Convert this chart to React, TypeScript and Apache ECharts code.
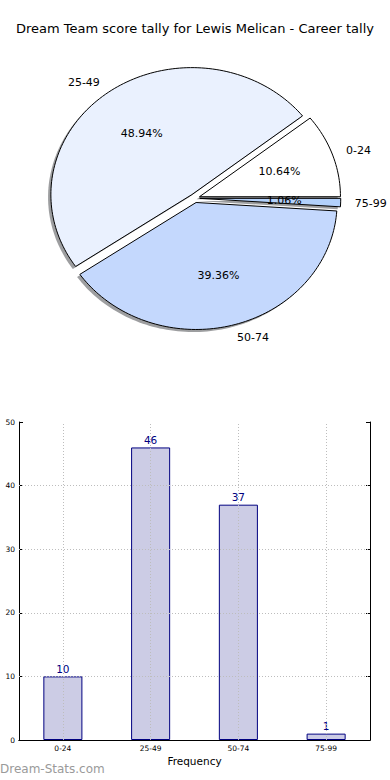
import React, { useEffect, useRef } from "react";
import * as echarts from "echarts";

const categories = ["0-24", "25-49", "50-74", "75-99"];
const counts = [10, 46, 37, 1];
const pieColors = ["#ffffff", "#eaf1fe", "#c4d8fd", "#b3d1fb"];
const yTicks = [10, 20, 30, 40];

const FONT = '"DejaVu Sans", sans-serif';
const CX = 194.8;
const CY = 198.2;
const RX = 141;
const RY = 127;
const EXPLODE = 0.035;

const total = counts.reduce((a, b) => a + b, 0);

function sliceGeom(i: number) {
  let start = 0;
  for (let k = 0; k < i; k++) start += counts[k];
  const a0 = (start / total) * 2 * Math.PI;
  const a1 = ((start + counts[i]) / total) * 2 * Math.PI;
  const mid = (a0 + a1) / 2;
  const ox = CX + EXPLODE * RX * Math.cos(mid);
  const oy = CY - EXPLODE * RY * Math.sin(mid);
  return { a0, a1, mid, ox, oy };
}

function slicePoints(i: number, dx: number, dy: number) {
  const { a0, a1, ox, oy } = sliceGeom(i);
  const pts: number[][] = [[ox + dx, oy + dy]];
  const n = Math.max(2, Math.ceil(((a1 - a0) * 180) / Math.PI / 1.5));
  for (let s = 0; s <= n; s++) {
    const t = a0 + ((a1 - a0) * s) / n;
    pts.push([ox + dx + RX * Math.cos(t), oy + dy - RY * Math.sin(t)]);
  }
  return pts;
}

export default function App() {
  const ref = useRef<HTMLDivElement>(null);
  useEffect(() => {
    document.body.style.margin = "0";
    if (!ref.current) return;
    const chart = echarts.init(ref.current, null, { renderer: "svg" });
    const option: any = {
      animation: false,
      backgroundColor: "#ffffff",
      title: {
        text: "Dream Team score tally for Lewis Melican - Career tally",
        left: "center",
        top: 17,
        textStyle: { fontFamily: FONT, fontSize: 13, fontWeight: "normal", color: "#000" },
      },
      graphic: [
        {
          type: "text",
          left: 0,
          top: 763,
          style: { text: "Dream-Stats.com", fill: "#9a9a9a", font: `12px ${FONT}` },
        },
      ],
      grid: { left: 19, right: 20, top: 422, bottom: 40, containLabel: false },
      xAxis: [
        {
          type: "category",
          data: categories,
          position: "bottom",
          axisLine: { lineStyle: { color: "#000", width: 1 } },
          axisTick: { inside: true, alignWithLabel: true, length: 4, lineStyle: { color: "#000" } },
          axisLabel: { fontFamily: FONT, fontSize: 7.5, color: "#000", margin: 4 },
          name: "Frequency",
          nameLocation: "middle",
          nameGap: 15,
          nameTextStyle: { fontFamily: FONT, fontSize: 10.5, color: "#000" },
          splitLine: { show: false },
        },
        {
          type: "category",
          data: categories,
          position: "top",
          axisLine: { lineStyle: { color: "#000", width: 1 } },
          axisTick: { inside: true, alignWithLabel: true, length: 4, lineStyle: { color: "#000" } },
          axisLabel: { show: false },
          splitLine: { show: false },
        },
      ],
      yAxis: [
        {
          type: "value",
          min: 0,
          max: 50,
          interval: 10,
          position: "left",
          axisLine: { show: true, lineStyle: { color: "#000", width: 1 } },
          axisTick: { show: true, inside: true, length: 4, lineStyle: { color: "#000" } },
          axisLabel: { fontFamily: FONT, fontSize: 7.5, color: "#000", margin: 4 },
          splitLine: { show: false },
        },
        {
          type: "value",
          min: 0,
          max: 50,
          interval: 10,
          position: "right",
          axisLine: { show: true, lineStyle: { color: "#000", width: 1 } },
          axisTick: { show: true, inside: true, length: 4, lineStyle: { color: "#000" } },
          axisLabel: { show: false },
          splitLine: { show: false },
        },
      ],
      series: [
        {
          type: "custom",
          coordinateSystem: "none",
          z: 1,
          silent: true,
          data: counts,
          renderItem: (params: any) => ({
            type: "polygon",
            shape: { points: slicePoints(params.dataIndex, -0.02 * RX, 0.02 * RY) },
            style: { fill: "rgba(60,62,66,0.5)", stroke: "none" },
          }),
        },
        {
          type: "custom",
          coordinateSystem: "none",
          z: 2,
          silent: true,
          data: counts,
          renderItem: (params: any) => ({
            type: "polygon",
            shape: { points: slicePoints(params.dataIndex, 0, 0) },
            style: { fill: pieColors[params.dataIndex], stroke: "#000", lineWidth: 1 },
          }),
        },
        {
          type: "custom",
          coordinateSystem: "none",
          z: 3,
          silent: true,
          data: counts,
          renderItem: (params: any, api: any) => {
            const i = params.dataIndex;
            const v = api.value(0);
            const { mid, ox, oy } = sliceGeom(i);
            const c = Math.cos(mid);
            const s = Math.sin(mid);
            const pct = ((v / total) * 100).toFixed(2) + "%";
            return {
              type: "group",
              children: [
                {
                  type: "text",
                  x: ox + 0.6 * RX * c,
                  y: oy - 0.6 * RY * s,
                  style: {
                    text: pct,
                    fill: "#000",
                    font: `11px ${FONT}`,
                    align: "center",
                    verticalAlign: "middle",
                  },
                },
                {
                  type: "text",
                  x: ox + 1.1 * RX * c,
                  y: oy - 1.1 * RY * s,
                  style: {
                    text: categories[i],
                    fill: "#000",
                    font: `11px ${FONT}`,
                    align: c >= 0 ? "left" : "right",
                    verticalAlign: "middle",
                  },
                },
              ],
            };
          },
        },
        {
          type: "bar",
          xAxisIndex: 0,
          yAxisIndex: 0,
          data: counts,
          barWidth: "44.5%",
          itemStyle: { color: "#ccccE5", borderColor: "#000080", borderWidth: 1 },
          label: {
            show: true,
            position: "top",
            distance: 2,
            color: "#000080",
            fontFamily: FONT,
            fontSize: 10.5,
          },
          markLine: {
            silent: true,
            symbol: "none",
            label: { show: false },
            lineStyle: { type: [1, 2], color: "#bdbdbd", width: 1 },
            data: [
              ...categories.map((c) => ({ xAxis: c })),
              ...yTicks.map((t) => ({ yAxis: t })),
            ],
          },
        },
      ],
    };
    chart.setOption(option);
    return () => chart.dispose();
  }, []);
  return <div ref={ref} style={{ width: 390, height: 780 }} />;
}
